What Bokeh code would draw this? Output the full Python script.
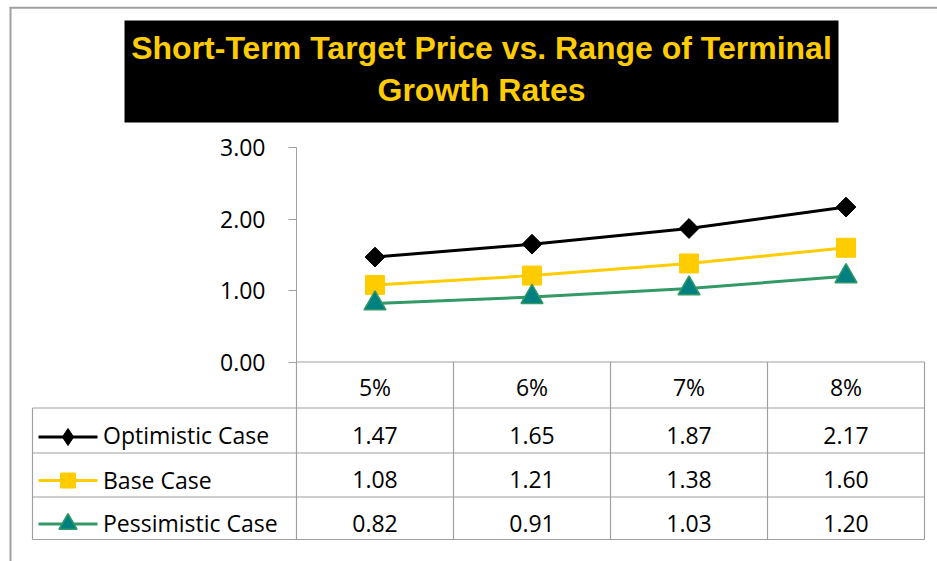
import numpy as np
from bokeh.plotting import figure
from bokeh.models import Range1d, LinearAxis, FixedTicker, PrintfTickFormatter
from bokeh.core.properties import value
from bokeh.embed import file_html
from bokeh.resources import INLINE

# ---------------- data ----------------
title_lines = ["Short-Term Target Price vs. Range of Terminal", "Growth Rates"]
categories = ["5%", "6%", "7%", "8%"]
series_names = ["Optimistic Case", "Base Case", "Pessimistic Case"]
optimistic = [1.47, 1.65, 1.87, 2.17]
base = [1.08, 1.21, 1.38, 1.60]
pessimistic = [0.82, 0.91, 1.03, 1.20]
y_ticks = [0, 1, 2, 3]

# ---------------- layout / style ----------------
W, H = 937, 561
OX, OY = 0, 0
CAT_X0, CAT_DX = 374.5, 157.0       # pixel of first category centre, category width
VAL_Y0, VAL_DY = 361.5, 71.4        # pixel of value 0, pixels per unit
GRID = "#A0A0A0"
YELLOW = "#FFCC00"
GREEN = "#339966"
TEAL = "#008080"
FONT = "Open Sans"
FS = "23px"

p = figure(width=W, height=H, output_backend="svg", toolbar_location=None,
           x_axis_type=None, y_axis_type=None, min_border=0,
           x_range=Range1d(OX, OX + W), y_range=Range1d(OY + H, OY))
p.outline_line_color = None
p.background_fill_color = "white"
p.border_fill_color = "white"
p.extra_x_ranges = {"cat": Range1d((OX - CAT_X0) / CAT_DX, (OX + W - CAT_X0) / CAT_DX)}
p.extra_y_ranges = {"val": Range1d((VAL_Y0 - (OY + H)) / VAL_DY, (VAL_Y0 - OY) / VAL_DY)}

# outer chart-area border (top and left)
p.segment(x0=[9, 10], y0=[7.25, 6.5], x1=[OX + W, 10], y1=[7.25, OY + H],
          line_color=GRID, line_width=2)

# title box
p.quad(left=[124], right=[838], top=[20], bottom=[122], fill_color="black", line_color=None)
p.text(x=[481, 481], y=[47, 89], text=title_lines, text_align="center",
       text_baseline="middle", text_color=YELLOW, text_font=value("Liberation Sans"),
       text_font_style="bold", text_font_size=value("32px"))

# y axis
yaxis = LinearAxis(x_range_name="cat", y_range_name="val", fixed_location=-0.5,
                   bounds=(0, 3), ticker=FixedTicker(ticks=y_ticks, minor_ticks=[]),
                   formatter=PrintfTickFormatter(format="%.2f"))
yaxis.major_tick_out = 8
yaxis.major_tick_in = 0
yaxis.minor_tick_out = 0
yaxis.minor_tick_in = 0
yaxis.axis_line_color = GRID
yaxis.major_tick_line_color = GRID
yaxis.major_label_text_font = FONT
yaxis.major_label_text_font_size = FS
yaxis.major_label_text_color = "black"
yaxis.major_label_standoff = 23
p.add_layout(yaxis, "left")

# data table grid
n = len(categories)
bounds_cat = [i - 0.5 for i in range(n + 1)]
x_right = CAT_X0 + CAT_DX * (n - 0.5)
x_axis_left = CAT_X0 - CAT_DX * 0.5
row_lines = [407.5, 452.5, 496.5, 539]
p.segment(x0=[x_axis_left], y0=[VAL_Y0], x1=[x_right], y1=[VAL_Y0], line_color=GRID, line_width=1.2)
p.segment(x0=[32] * len(row_lines), y0=row_lines, x1=[x_right] * len(row_lines), y1=row_lines,
          line_color=GRID, line_width=1.2)
p.segment(x0=[32], y0=[row_lines[0]], x1=[32], y1=[row_lines[-1]], line_color=GRID, line_width=1.2)
p.segment(x0=bounds_cat, y0=[VAL_Y0] * (n + 1), x1=bounds_cat, y1=[row_lines[-1]] * (n + 1),
          x_range_name="cat", line_color=GRID, line_width=1.2)

# table texts
p.text(x=list(range(n)), y=[386.5] * n, text=categories, x_range_name="cat",
       text_align="center", text_baseline="middle", text_color="black",
       text_font=value(FONT), text_font_size=value(FS))
row_txt = [434.5, 479, 522.5]
row_mid = [436.5, 480, 523.5]
all_series = [optimistic, base, pessimistic]
for r, vals in enumerate(all_series):
    p.text(x=list(range(n)), y=[row_txt[r]] * n, text=[f"{v:.2f}" for v in vals],
           x_range_name="cat", text_align="center", text_baseline="middle",
           text_color="black", text_font=value(FONT), text_font_size=value(FS))
p.text(x=[102.5] * 3, y=row_txt, text=series_names, text_align="left",
       text_baseline="middle", text_color="black",
       text_font=value(FONT), text_font_size=value(FS))

# legend keys in table
key_colors = ["black", YELLOW, GREEN]
for r in range(3):
    p.segment(x0=[38], y0=[row_mid[r]], x1=[97], y1=[row_mid[r]], line_color=key_colors[r], line_width=3)
p.scatter(x=[67.5], y=[row_mid[0]], marker="diamond", size=17, fill_color="black", line_color="black")
p.scatter(x=[67.5], y=[row_mid[1]], marker="square", size=15, fill_color=YELLOW, line_color=YELLOW)
p.scatter(x=[67.5], y=[row_mid[2]], marker="triangle", size=18, fill_color=TEAL, line_color=GREEN, line_width=1.5)

# data series
xs = list(range(n))
p.line(x=xs, y=optimistic, x_range_name="cat", y_range_name="val", line_color="black", line_width=3)
p.line(x=xs, y=base, x_range_name="cat", y_range_name="val", line_color=YELLOW, line_width=3)
p.line(x=xs, y=pessimistic, x_range_name="cat", y_range_name="val", line_color=GREEN, line_width=3)
p.scatter(x=xs, y=optimistic, x_range_name="cat", y_range_name="val", marker="square",
          angle=np.pi / 4, size=14, fill_color="black", line_color="black")
p.scatter(x=xs, y=base, x_range_name="cat", y_range_name="val", marker="square",
          size=19, fill_color=YELLOW, line_color=YELLOW)
p.scatter(x=xs, y=pessimistic, x_range_name="cat", y_range_name="val", marker="triangle",
          size=22, fill_color=TEAL, line_color=GREEN, line_width=1.5)

open("out.html", "w").write(file_html(p, INLINE))
